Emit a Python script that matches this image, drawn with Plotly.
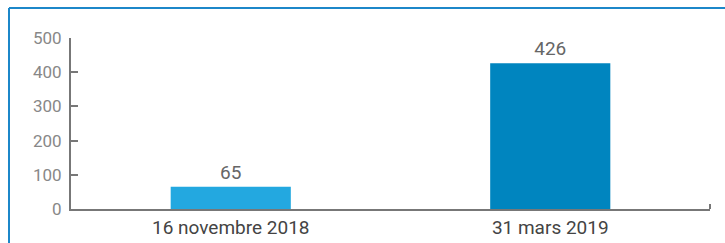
import plotly.graph_objects as go

categories = ["16 novembre 2018", "31 mars 2019"]
values = [65, 426]
bar_colors = ["#23a8e0", "#0085bf"]
y_ticks = [0, 100, 200, 300, 400, 500]

L, R, T, B = 71, 15, 38, 34
W, H = 725, 243
pw, ph = W - L - R, H - T - B

def px(x):
    return (x - L) / pw

def py(y):
    return (H - B - y) / ph

fig = go.Figure()
fig.add_trace(go.Bar(
    x=categories, y=values,
    marker=dict(color=bar_colors, line=dict(width=0)),
    text=[str(v) for v in values], textposition="outside",
    textfont=dict(size=19, color="#666666", family="Roboto"),
    cliponaxis=False, width=0.376,
))

frame = "#1c87c9"
shapes = [
    dict(type="line", xref="paper", yref="paper", x0=px(9), x1=px(W + 5), y0=py(8), y1=py(8),
         line=dict(color=frame, width=2)),
    dict(type="line", xref="paper", yref="paper", x0=px(9), x1=px(9), y0=py(8), y1=py(H + 5),
         line=dict(color=frame, width=2)),
    dict(type="line", xref="paper", yref="paper", x0=1, x1=1, y0=0, y1=py(204),
         line=dict(color="#777777", width=2)),
]

fig.update_layout(
    width=W, height=H,
    margin=dict(l=L, r=R, t=T, b=B, autoexpand=False),
    paper_bgcolor="white", plot_bgcolor="white",
    showlegend=False,
    bargap=0.624,
    shapes=shapes,
    font=dict(family="Roboto", size=17, color="#555555"),
    xaxis=dict(showline=True, linecolor="#777777", linewidth=2, ticks="",
               tickfont=dict(size=19, color="#444444"), showgrid=False, zeroline=False,
               automargin=False),
    yaxis=dict(range=[0, 500], tickvals=y_ticks, showline=True, linecolor="#777777", linewidth=2,
               ticks="inside", ticklen=7, tickcolor="#777777", tickwidth=2,
               tickfont=dict(size=17, color="#888888"), showgrid=False, zeroline=False,
               ticklabelstandoff=4, automargin=False),
)

fig.write_html("out.html", config={"displayModeBar": False},
               post_script="document.body.style.margin='0';document.body.style.overflow='hidden';")
